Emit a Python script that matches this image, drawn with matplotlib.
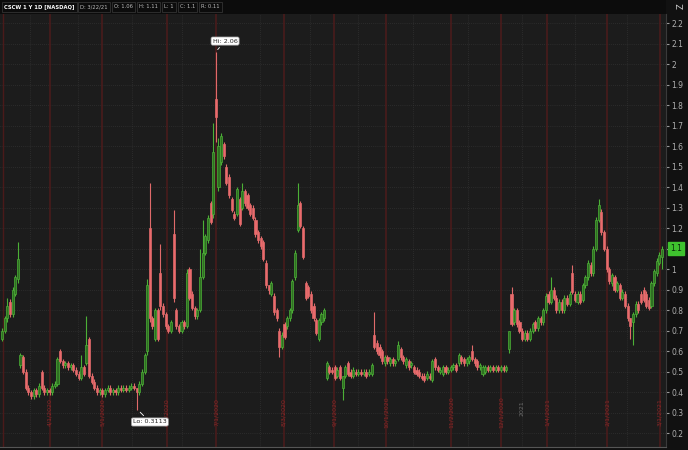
import matplotlib
matplotlib.use("Agg")
import matplotlib.pyplot as plt

# daily candles, CSCW 1Y (open, close)
opens = [
    0.66, 0.70, 0.76, 0.84, 0.78, 0.88, 0.95, 0.53, 0.57, 0.50,
    0.42, 0.40, 0.38, 0.41, 0.39, 0.50, 0.42, 0.40, 0.41, 0.40,
    0.43, 0.44, 0.60, 0.55, 0.53, 0.54, 0.52, 0.53, 0.51, 0.49,
    0.47, 0.52, 0.54, 0.66, 0.48, 0.45, 0.42, 0.40, 0.41, 0.39,
    0.41, 0.42, 0.40, 0.41, 0.40, 0.42, 0.41, 0.42, 0.41, 0.42,
    0.43, 0.42, 0.40, 0.44, 0.50, 0.60, 1.20, 0.76, 0.66, 0.80,
    0.98, 0.82, 0.78, 0.72, 0.70, 1.17, 0.80, 0.72, 0.70, 0.74,
    0.72, 1.00, 0.88, 0.81, 0.77, 0.80, 0.96, 1.08, 1.14, 1.32,
    1.27, 1.83, 1.40, 1.52, 1.61, 1.50, 1.45, 1.34, 1.27, 1.27,
    1.34, 1.30, 1.38, 1.36, 1.31, 1.30, 1.24, 1.18, 1.15, 1.13,
    1.03, 0.92, 0.88, 0.87, 0.80, 0.70, 0.62, 0.73, 0.72, 0.76,
    0.80, 0.96, 1.19, 1.32, 1.20, 0.93, 0.91, 0.88, 0.82, 0.75,
    0.66, 0.74, 0.76, 0.47, 0.52, 0.51, 0.52, 0.48, 0.52, 0.42,
    0.48, 0.54, 0.50, 0.48, 0.50, 0.49, 0.50, 0.49, 0.50, 0.49,
    0.49, 0.68, 0.64, 0.62, 0.60, 0.54, 0.57, 0.54, 0.56, 0.54,
    0.56, 0.61, 0.57, 0.53, 0.55, 0.53, 0.52, 0.51, 0.50, 0.48,
    0.48, 0.47, 0.48, 0.46, 0.56, 0.52, 0.50, 0.49, 0.52, 0.50,
    0.51, 0.52, 0.53, 0.54, 0.57, 0.56, 0.54, 0.55, 0.60, 0.56,
    0.55, 0.52, 0.49, 0.50, 0.52, 0.51, 0.52, 0.51, 0.52, 0.51,
    0.52, 0.51, 0.61, 0.88, 0.74, 0.80, 0.74, 0.70, 0.66, 0.69,
    0.66, 0.70, 0.74, 0.71, 0.76, 0.74, 0.80, 0.88, 0.84, 0.90,
    0.86, 0.80, 0.84, 0.80, 0.86, 0.83, 0.98, 0.88, 0.84, 0.88,
    0.85, 0.92, 0.96, 1.02, 0.98, 1.10, 1.24, 1.28, 1.18, 1.10,
    1.00, 0.93, 0.96, 0.90, 0.92, 0.86, 0.88, 0.82, 0.76, 0.74,
    0.78, 0.83, 0.88, 0.90, 0.88, 0.85, 0.82, 0.93, 0.98, 1.03,
    1.06,
]
closes = [
    0.70, 0.76, 0.82, 0.78, 0.90, 0.96, 1.05, 0.58, 0.50, 0.42,
    0.40, 0.38, 0.41, 0.39, 0.43, 0.42, 0.40, 0.41, 0.40, 0.43,
    0.44, 0.56, 0.55, 0.53, 0.54, 0.52, 0.53, 0.51, 0.49, 0.47,
    0.52, 0.49, 0.63, 0.48, 0.45, 0.42, 0.40, 0.41, 0.39, 0.41,
    0.42, 0.40, 0.41, 0.40, 0.42, 0.41, 0.42, 0.41, 0.42, 0.43,
    0.42, 0.40, 0.44, 0.50, 0.58, 0.92, 0.76, 0.72, 0.80, 0.66,
    0.82, 0.78, 0.72, 0.70, 0.74, 0.86, 0.72, 0.70, 0.74, 0.72,
    0.98, 0.86, 0.81, 0.77, 0.80, 0.96, 1.08, 1.16, 1.25, 1.23,
    1.57, 1.74, 1.60, 1.65, 1.55, 1.42, 1.36, 1.29, 1.25, 1.39,
    1.22, 1.38, 1.32, 1.30, 1.27, 1.25, 1.17, 1.14, 1.11, 1.05,
    0.92, 0.90, 0.93, 0.79, 0.76, 0.62, 0.68, 0.67, 0.76, 0.80,
    0.94, 1.08, 1.31, 1.21, 1.06, 0.86, 0.87, 0.80, 0.76, 0.69,
    0.75, 0.78, 0.80, 0.54, 0.50, 0.50, 0.47, 0.51, 0.47, 0.48,
    0.52, 0.49, 0.48, 0.51, 0.49, 0.50, 0.49, 0.50, 0.48, 0.50,
    0.53, 0.62, 0.60, 0.58, 0.55, 0.57, 0.55, 0.56, 0.54, 0.55,
    0.63, 0.57, 0.55, 0.56, 0.52, 0.54, 0.50, 0.49, 0.48, 0.47,
    0.46, 0.49, 0.47, 0.55, 0.52, 0.51, 0.51, 0.52, 0.50, 0.51,
    0.52, 0.53, 0.51, 0.58, 0.55, 0.54, 0.56, 0.57, 0.56, 0.54,
    0.52, 0.53, 0.52, 0.52, 0.51, 0.52, 0.51, 0.52, 0.51, 0.52,
    0.51, 0.52, 0.70, 0.73, 0.80, 0.73, 0.70, 0.66, 0.69, 0.66,
    0.70, 0.73, 0.71, 0.76, 0.74, 0.80, 0.87, 0.84, 0.90, 0.86,
    0.80, 0.84, 0.80, 0.86, 0.83, 0.88, 0.89, 0.85, 0.88, 0.84,
    0.92, 0.96, 1.03, 0.98, 1.10, 1.24, 1.31, 1.18, 1.10, 1.00,
    0.94, 0.97, 0.90, 0.93, 0.86, 0.89, 0.82, 0.76, 0.72, 0.78,
    0.83, 0.80, 0.84, 0.85, 0.82, 0.81, 0.93, 0.99, 1.04, 1.07,
    1.10,
]
# candles whose wicks reach well past the body: index -> (high, low)
long_wicks = {
    2: (0.86, 0.74), 6: (1.13, 0.93), 15: (0.51, 0.41), 22: (0.61, 0.54),
    30: (0.58, 0.46), 32: (0.77, 0.53), 33: (0.67, 0.47), 51: (0.42, 0.3113),
    55: (0.95, 0.58), 56: (1.42, 0.74), 60: (1.12, 0.80), 65: (1.29, 0.84),
    70: (1.00, 0.71), 75: (1.10, 0.79), 76: (1.24, 0.95), 80: (1.71, 1.25),
    81: (2.06, 1.62), 82: (1.64, 1.38), 91: (1.42, 1.29), 101: (0.92, 0.88),
    105: (0.71, 0.57), 112: (1.42, 1.18), 129: (0.48, 0.36), 141: (0.79, 0.61),
    150: (0.65, 0.55), 178: (0.63, 0.55), 192: (0.70, 0.59), 193: (0.91, 0.72),
    208: (0.96, 0.83), 216: (1.02, 0.88), 226: (1.34, 1.23), 238: (0.76, 0.66),
    239: (0.79, 0.63), 250: (1.11, 1.00),
}

price_ticks = [0.2, 0.3, 0.4, 0.5, 0.6, 0.7, 0.8, 0.9, 1, 1.1, 1.2, 1.3,
               1.4, 1.5, 1.6, 1.7, 1.8, 1.9, 2, 2.1, 2.2]
month_pos = [18.2, 37.9, 62.5, 81.1, 106.8, 125.8, 145.5, 170.1, 189.0,
             206.4, 229.2, 249.2]
month_labels = ["4/1/2020", "5/1/2020", "6/1/2020", "7/1/2020", "8/3/2020",
                "9/1/2020", "10/1/2020", "11/2/2020", "12/1/2020",
                "1/4/2021", "2/1/2021", "3/1/2021"]
week_pos = [10.6, 28.8, 49.2, 68.2, 97.7, 116.7, 134.8, 155.7, 176.5,
            196.9, 217.0, 236.7]
last_price = 1.1

W, H = 688, 450
fig = plt.figure(figsize=(W / 100, H / 100), dpi=100, facecolor="#111111")
ax = fig.add_axes([0, 3 / H, 666 / W, 433 / H])
ax.set_facecolor("#1c1c1c")
ax.set_xlim(-0.76, 251.5)
ax.set_ylim(0.132, 2.244)

for p in price_ticks:
    ax.axhline(p, color="#3a3a3a", lw=0.5, ls=(0, (1, 2)), zorder=0)
for p in week_pos:
    ax.axvline(p, color="#3a3a3a", lw=0.5, ls=(0, (1, 2)), zorder=0)
ax.axvline(0.4, color="#4a1a1a", lw=1.0, zorder=0)
for p, lab in zip(month_pos, month_labels):
    ax.axvline(p, color="#4d1b1b", lw=1.1, zorder=0)
    ax.text(p, 0.30, lab, rotation=90, ha="center", va="center",
            fontsize=4.5, color="#8a2828", zorder=1)
ax.text(197.0, 0.32, "2021", rotation=90, ha="center", va="center",
        fontsize=4.5, color="#6a6a6a", zorder=1)

up_body, up_edge = "#2f7022", "#4cb036"
dn_body, dn_edge = "#ea6a6c", "#e06a6a"
for i, (o, c) in enumerate(zip(opens, closes)):
    hi, lo = long_wicks.get(i, (max(o, c) + 0.012, min(o, c) - 0.012))
    if c >= o:
        body, edge = up_body, up_edge
    else:
        body, edge = dn_body, dn_edge
    ax.vlines(i, lo, hi, color=edge, lw=0.8, zorder=2)
    ax.bar(i, max(abs(c - o), 0.005), bottom=min(o, c), width=0.8,
           color=body, edgecolor=edge, linewidth=0.5, zorder=3)

ax.yaxis.tick_right()
ax.set_yticks(price_ticks)
# the last-price box covers the 1.1 label
ax.set_yticklabels(["" if p == last_price else f"{p:g}" for p in price_ticks])
ax.tick_params(axis="y", colors="#9a9a9a", labelsize=5.5, length=2, pad=2,
               labelcolor="#b0b0b0")
ax.set_xticks([])
for s in ["top", "left"]:
    ax.spines[s].set_visible(False)
ax.spines["right"].set_color("#3a3a3a")
ax.spines["bottom"].set_color("#555555")

# hi / lo bubbles
ax.annotate("Hi: 2.06", xy=(81, 2.06), xytext=(84.5, 2.112), fontsize=4.6,
            ha="center", va="center", color="#222222",
            bbox=dict(boxstyle="round,pad=0.25", fc="white", ec="#999999", lw=0.5),
            arrowprops=dict(arrowstyle="-", color="white", lw=0.6), zorder=6)
ax.annotate("Lo: 0.3113", xy=(51.6, 0.3113), xytext=(56.0, 0.254), fontsize=4.6,
            ha="center", va="center", color="#222222",
            bbox=dict(boxstyle="round,pad=0.25", fc="white", ec="#999999", lw=0.5),
            arrowprops=dict(arrowstyle="-", color="white", lw=0.6), zorder=6)

# last price box
ax.annotate(f"{last_price:g}", xy=(1, last_price), xycoords=("axes fraction", "data"),
            xytext=(3, 0), textcoords="offset points", fontsize=5.5,
            color="#0a2a0a", ha="left", va="center", annotation_clip=False,
            bbox=dict(boxstyle="square,pad=0.3", fc="#3fc22e", ec="#3fc22e"))

# header bar
fig.patches.append(plt.Rectangle((0, 1 - 14 / H), 666 / W, 14 / H,
                                 transform=fig.transFigure, fc="#0c0c0c",
                                 ec="none", zorder=0))
header = [("CSCW 1 Y 1D [NASDAQ]", "bold", "white"),
          ("D: 3/22/21", "normal", "#bbbbbb"),
          ("O: 1.06", "normal", "#bbbbbb"),
          ("H: 1.11", "normal", "#bbbbbb"),
          ("L: 1", "normal", "#bbbbbb"),
          ("C: 1.1", "normal", "#bbbbbb"),
          ("R: 0.11", "normal", "#bbbbbb")]
renderer = fig.canvas.get_renderer()
px = 4
for txt, wt, col in header:
    t = fig.text(px / W, 1 - 7 / H, txt, fontsize=3.8, fontweight=wt, color=col,
                 ha="left", va="center",
                 bbox=dict(boxstyle="square,pad=0.4", fc="#0c0c0c",
                           ec="#3a3a3a", lw=0.5))
    bb = t.get_window_extent(renderer)
    px += bb.width + 6
fig.text(681 / W, 1 - 6 / H, "Z", fontsize=6, color="#cccccc", ha="center",
         va="center", rotation=90)

fig.savefig("out.png", dpi=100, facecolor=fig.get_facecolor())
